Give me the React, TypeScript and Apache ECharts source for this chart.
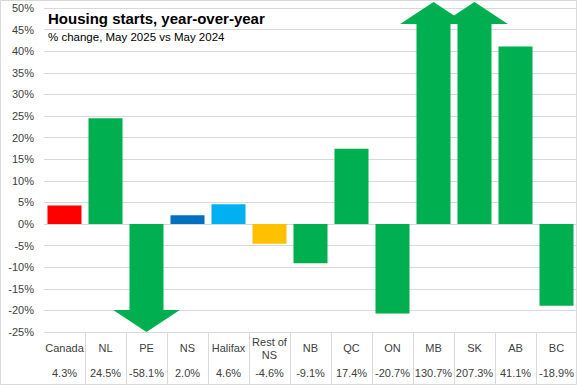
import React, { useEffect, useRef } from "react";
import * as echarts from "echarts";

const categories = ["Canada", "NL", "PE", "NS", "Halifax", "Rest of\nNS", "NB", "QC", "ON", "MB", "SK", "AB", "BC"];
const values = [4.3, 24.5, -58.1, 2.0, 4.6, -4.6, -9.1, 17.4, -20.7, 130.7, 207.3, 41.1, -18.9];
const valueLabels = ["4.3%", "24.5%", "-58.1%", "2.0%", "4.6%", "-4.6%", "-9.1%", "17.4%", "-20.7%", "130.7%", "207.3%", "41.1%", "-18.9%"];
const colors = ["#FF0000", "#00B050", "#00B050", "#0070C0", "#00B0F0", "#FFC000", "#00B050", "#00B050", "#00B050", "#00B050", "#00B050", "#00B050", "#00B050"];
const Y_MIN = -25;
const Y_MAX = 50;
const Y_STEP = 5;

const FONT = "'Liberation Sans', Arial, sans-serif";
const TEXT = "#404040";
const GRID = "#D9D9D9";

export default function App() {
  const ref = useRef<HTMLDivElement>(null);
  useEffect(() => {
    document.body.style.margin = "0";
    const chart = echarts.init(ref.current!, null, { renderer: "svg" });
    const option: any = {
      animation: false,
      backgroundColor: "#FFFFFF",
      title: {
        text: "Housing starts, year-over-year",
        subtext: "% change, May 2025 vs May 2024",
        left: 43,
        top: 6,
        itemGap: 5,
        textStyle: { fontFamily: "'Liberation Sans Narrow', 'Liberation Sans', Arial, sans-serif", fontWeight: "bold", fontSize: 15, color: "#000" },
        subtextStyle: { fontFamily: FONT, fontSize: 11.5, color: "#000" },
      },
      grid: { left: 44, right: 0, top: 8, bottom: 53, containLabel: false },
      xAxis: [
        {
          type: "category",
          data: categories,
          position: "bottom",
          axisLine: { show: false, onZero: false },
          axisTick: { show: true, length: 52, lineStyle: { color: GRID }, interval: (i: number) => i !== 0 },
          axisLabel: {
            interval: 0,
            margin: 16,
            verticalAlign: "middle",
            lineHeight: 13,
            fontFamily: FONT,
            fontSize: 11,
            color: TEXT,
          },
        },
        {
          type: "category",
          data: valueLabels,
          position: "bottom",
          axisLine: { show: false, onZero: false },
          axisTick: { show: false },
          axisLabel: {
            interval: 0,
            margin: 41,
            verticalAlign: "middle",
            fontFamily: FONT,
            fontSize: 11,
            color: TEXT,
          },
        },
      ],
      yAxis: {
        type: "value",
        min: Y_MIN,
        max: Y_MAX,
        interval: Y_STEP,
        axisLine: { show: false },
        axisTick: { show: false },
        splitLine: { lineStyle: { color: GRID, width: 1 } },
        axisLabel: {
          margin: 10,
          formatter: (v: number) => `${v}%`,
          fontFamily: FONT,
          fontSize: 11,
          color: TEXT,
        },
      },
      series: [
        {
          type: "custom",
          xAxisIndex: 0,
          clip: false,
          data: values.map((v, i) => [i, v]),
          renderItem: (params: any, api: any) => {
            const idx = api.value(0);
            const v = api.value(1);
            const catW = api.size([1, 0])[0];
            const bw = catW * 0.83;
            const zero = api.coord([idx, 0]);
            const cx = zero[0];
            const color = colors[idx];
            if (v >= Y_MIN && v <= Y_MAX) {
              const end = api.coord([idx, v]);
              const y0 = Math.min(zero[1], end[1]);
              return {
                type: "rect",
                shape: { x: cx - bw / 2, y: y0, width: bw, height: Math.abs(end[1] - zero[1]) },
                style: { fill: color },
              };
            }
            const up = v > Y_MAX;
            const lim = api.coord([idx, up ? Y_MAX : Y_MIN])[1];
            const tip = up ? lim - 6 : lim;
            const headLen = 22;
            const headHalf = bw * 0.98;
            const base = up ? tip + headLen : tip - headLen;
            const pts = [
              [cx - bw / 2, zero[1]],
              [cx - bw / 2, base],
              [cx - headHalf, base],
              [cx, tip],
              [cx + headHalf, base],
              [cx + bw / 2, base],
              [cx + bw / 2, zero[1]],
            ];
            return { type: "polygon", shape: { points: pts }, style: { fill: color } };
          },
        },
      ],
      graphic: [
        {
          type: "rect",
          shape: { x: 0.5, y: 0.5, width: 576, height: 384 },
          style: { fill: "none", stroke: GRID, lineWidth: 1 },
          silent: true,
          z: 100,
        },
      ],
    };
    chart.setOption(option);
    return () => chart.dispose();
  }, []);
  return <div ref={ref} style={{ width: 577, height: 385 }} />;
}
